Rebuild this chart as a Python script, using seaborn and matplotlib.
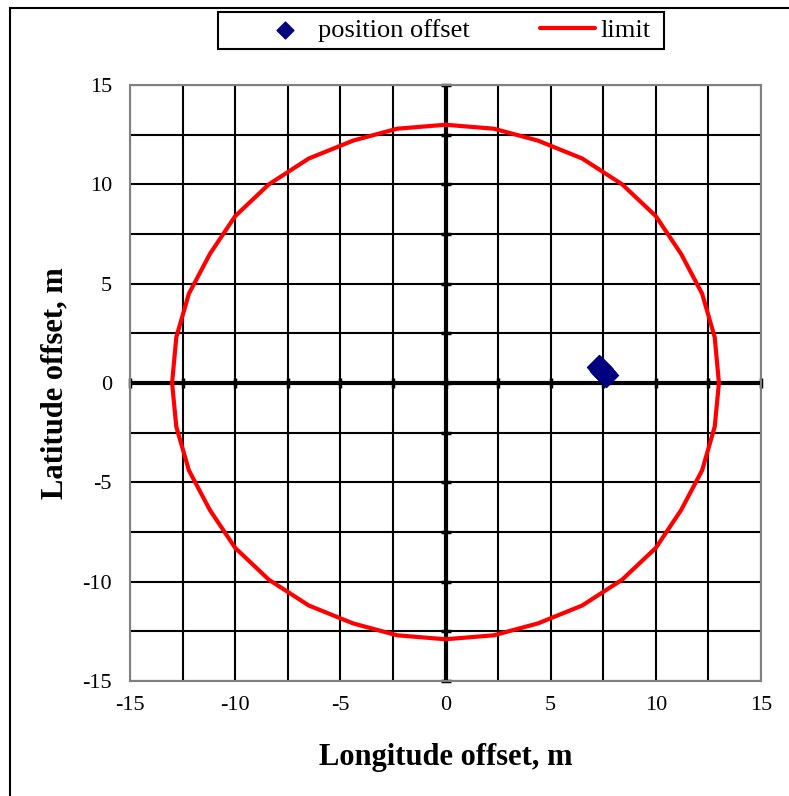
import numpy as np
import pandas as pd
import matplotlib
matplotlib.use("Agg")
import matplotlib.pyplot as plt
import seaborn as sns
from matplotlib.patches import Rectangle

# ----------- data -----------
limit_x = [0.0, 2.3, 4.4, 6.5, 8.4, 10.0, 11.2, 12.2, 12.8, 13.0,
           12.8, 12.2, 11.2, 10.0, 8.4, 6.5, 4.4, 2.3, 0.0,
           -2.3, -4.4, -6.5, -8.4, -10.0, -11.2, -12.2, -12.8, -13.0,
           -12.8, -12.2, -11.2, -10.0, -8.4, -6.5, -4.4, -2.3, 0.0]
limit_y = [13.0, 12.8, 12.2, 11.3, 10.0, 8.4, 6.5, 4.5, 2.3, 0.0,
           -2.2, -4.4, -6.4, -8.3, -9.9, -11.2, -12.1, -12.7, -12.9,
           -12.7, -12.1, -11.2, -9.9, -8.3, -6.4, -4.4, -2.2, 0.0,
           2.3, 4.5, 6.5, 8.4, 10.0, 11.3, 12.2, 12.8, 13.0]

pos_x = [7.30, 7.38, 7.45, 7.50, 7.55, 7.62]
pos_y = [0.80, 0.70, 0.62, 0.55, 0.50, 0.42]

ticks_major = [-15, -10, -5, 0, 5, 10, 15]
ticks_minor = [-12.5, -7.5, -2.5, 2.5, 7.5, 12.5]

limit_df = pd.DataFrame({"x": limit_x, "y": limit_y})
pos_df = pd.DataFrame({"x": pos_x, "y": pos_y})

sns.set_style("white")
plt.rcParams['font.family'] = ['Liberation Serif', 'DejaVu Serif']
plt.rcParams['axes.unicode_minus'] = False
plt.rcParams['text.color'] = 'black'
plt.rcParams['axes.labelcolor'] = 'black'
plt.rcParams['xtick.color'] = 'black'
plt.rcParams['ytick.color'] = 'black'

fig = plt.figure(figsize=(7.89, 7.96), dpi=100)
ax = fig.add_axes([0.1648, 0.1445, 0.7997, 0.7487])

# grid
ax.set_xticks(ticks_major)
ax.set_yticks(ticks_major)
ax.set_xticks(ticks_minor, minor=True)
ax.set_yticks(ticks_minor, minor=True)
ax.grid(True, which='both', color='black', linewidth=1.5, zorder=0)
ax.set_axisbelow(True)

# zero axes with small tick marks
ax.axhline(0, color='black', linewidth=3, zorder=1)
ax.axvline(0, color='black', linewidth=3, zorder=1)
all_ticks = sorted(ticks_major + ticks_minor)
ax.scatter(all_ticks, [0] * len(all_ticks), marker='|', s=50, color='black', linewidths=2.5, zorder=1, clip_on=False)
ax.scatter([0] * len(all_ticks), all_ticks, marker='_', s=50, color='black', linewidths=2.5, zorder=1, clip_on=False)

sns.scatterplot(data=pos_df, x='x', y='y', marker='D', s=150, color='#000080',
                edgecolor='#000080', label='position offset', ax=ax, zorder=4)
sns.lineplot(data=limit_df, x='x', y='y', sort=False, estimator=None, color='#ff0000',
             linewidth=3, label='limit', ax=ax, zorder=3)

ax.set_xlim(-15, 15)
ax.set_ylim(-15, 15)
ax.tick_params(axis='both', which='both', length=0, labelsize=16)
ax.tick_params(axis='x', pad=11)
ax.tick_params(axis='y', pad=13)
for sp in ax.spines.values():
    sp.set_color('#808080')
    sp.set_linewidth(1.5)

ax.set_xlabel('Longitude offset, m', fontsize=22, fontweight='bold', labelpad=20)
ax.set_ylabel('Latitude offset, m', fontsize=22, fontweight='bold', labelpad=9)

# legend: entries centred, box drawn separately
handles, labels = ax.get_legend_handles_labels()
ax.get_legend().remove()
leg = fig.legend(handles, labels, loc='center', ncol=2,
                 bbox_to_anchor=(454 / 789, 1 - 30.5 / 796),
                 fontsize=19, frameon=False, handlelength=2.1,
                 handletextpad=0.2, columnspacing=2.65, borderaxespad=0,
                 borderpad=0, markerscale=0.7)
fig.patches.append(Rectangle((218 / 789, 1 - 49 / 796), 446 / 789, 37 / 796,
                             transform=fig.transFigure, fill=False,
                             edgecolor='black', linewidth=1.5))

# outer chart border
fig.patches.append(Rectangle((10 / 789, -0.05), 1.2, 1 - 8 / 796 + 0.05,
                             transform=fig.transFigure, fill=False,
                             edgecolor='black', linewidth=1.5))

fig.savefig('out.png', dpi=100)
